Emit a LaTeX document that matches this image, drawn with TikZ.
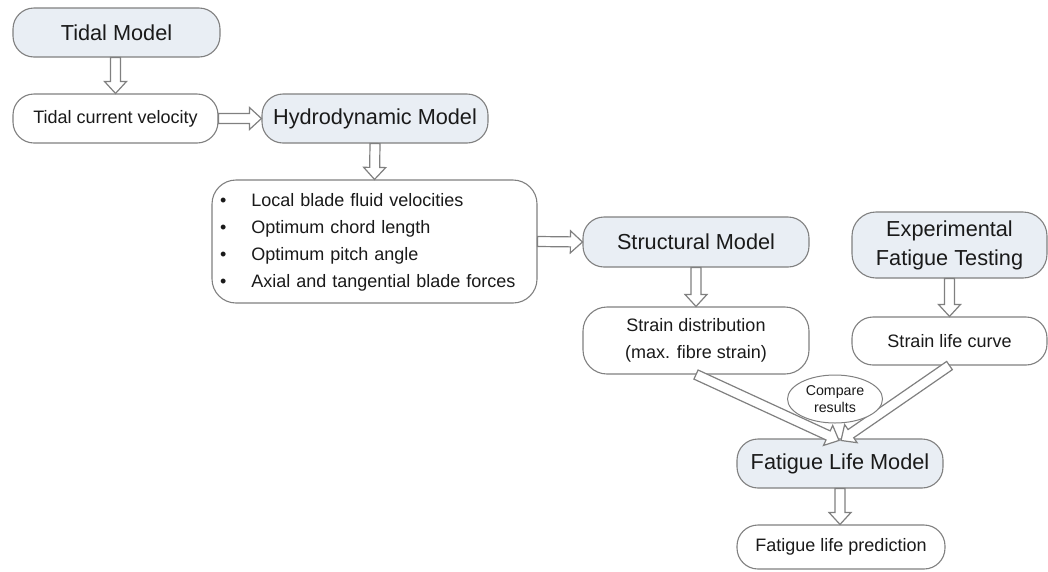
\documentclass[tikz,border=0pt]{standalone}
\usepackage{fontspec}
\setmainfont{Liberation Sans}
\usetikzlibrary{calc,shapes.geometric}
\definecolor{boxfill}{HTML}{E9EEF4}
\definecolor{edge}{HTML}{808080}
\definecolor{txt}{HTML}{1A1A1A}
\tikzset{
  base/.style={draw=edge, line width=1.1pt, text=txt, inner sep=0pt, rounded corners=21pt, align=center},
  model/.style={base, fill=boxfill, font=\fontsize{21.7}{29}\selectfont},
  data/.style={base, fill=white, font=\fontsize{18}{27}\selectfont},
  barrow/.style={draw=edge, fill=white, line width=1.2pt, line join=miter},
}
\newcommand\blockarrow[2]{\draw[barrow] let \p1=(#1), \p2=(#2), \n1={atan2(\y2-\y1,\x2-\x1)}, \n2={veclen(\x2-\x1,\y2-\y1)} in [shift={(\p1)}, rotate=\n1] (0pt,-5pt) -- (\n2-12pt,-5pt) -- (\n2-12pt,-11pt) -- (\n2-0pt,0pt) -- (\n2-12pt,11pt) -- (\n2-12pt,5pt) -- (0pt,5pt) -- cycle;}
\begin{document}
\begin{tikzpicture}[x=1pt,y=-1pt]
\useasboundingbox[fill=white] (0,0) rectangle (1048,571);
% nodes
\node[model, minimum width=207pt, minimum height=49pt] (tidal) at (116.5,32.5) {Tidal Model};
\node[data, minimum width=205pt, minimum height=49pt] (tcv) at (115.5,118.5) {Tidal current velocity};
\node[model, minimum width=226pt, minimum height=49pt] (hydro) at (375,118.5) {Hydrodynamic Model};
\node[data, rounded corners=24pt, text width=309pt, inner xsep=8pt, minimum height=123pt, align=left] (bul) at (374.5,241.5)
  {\begin{tabular}{@{}l@{\hspace{25pt}}l@{}}
  • & Local blade fluid velocities\\
  • & Optimum chord length\\
  • & Optimum pitch angle\\
  • & Axial and tangential blade forces
  \end{tabular}};
\node[model, minimum width=226pt, minimum height=50pt] (struct) at (696,242) {Structural Model};
\node[model, minimum width=195pt, minimum height=66pt, rounded corners=24pt] (exp) at (949.5,245) {Experimental\\Fatigue Testing};
\node[data, minimum width=226pt, minimum height=67pt, rounded corners=24pt] (strain) at (696,340.5) {Strain distribution\\(max. fibre strain)};
\node[data, minimum width=195pt, minimum height=48pt] (slc) at (949.5,341) {Strain life curve};
\node[model, minimum width=206pt, minimum height=49pt] (flm) at (840,463.5) {Fatigue Life Model};
\node[data, minimum width=208pt, minimum height=44pt] (pred) at (841,547) {Fatigue life prediction};
\coordinate (tipL) at ($(flm.north)+(-1,2)$);
\coordinate (tipR) at ($(flm.north)+(1,2)$);
% arrows
\blockarrow{tidal.south -| tcv.north}{tcv.north}
\blockarrow{tcv.east}{hydro.west}
\blockarrow{hydro.south}{bul.north}
\blockarrow{bul.east}{struct.west}
\blockarrow{struct.south}{strain.north}
\blockarrow{exp.south}{slc.north}
\blockarrow{strain.south}{tipL}
\blockarrow{slc.south}{tipR}
\blockarrow{flm.south}{pred.north -| flm.south}
\node[ellipse, draw=edge, line width=1pt, fill=white, minimum width=95pt, minimum height=48pt, inner sep=0pt, text=txt, align=center, font=\fontsize{14.2}{17}\selectfont] (cmp) at (835,399) {Compare\\results};
\end{tikzpicture}
\end{document}
